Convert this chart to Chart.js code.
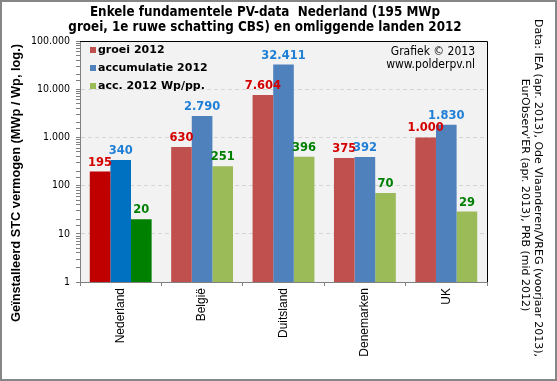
<!DOCTYPE html>
<html>
<head>
<meta charset="utf-8">
<script src="https://cdn.jsdelivr.net/npm/chart.js@4.4.1/dist/chart.umd.min.js"></script>
<style>
html,body{margin:0;padding:0;background:#fff;}
#wrap{width:557px;height:381px;position:relative;}
</style>
</head>
<body>
<div id="wrap"><canvas id="c" width="557" height="381"></canvas></div>
<script>
// ---- data ----
const categories = ['Nederland', 'België', 'Duitsland', 'Denemarken', 'UK'];
const groei2012 = [195, 630, 7604, 375, 1000];
const accumulatie2012 = [340, 2790, 32411, 392, 1830];
const wpPerPerson2012 = [20, 251, 396, 70, 29];
const seriesNames = ['groei 2012', 'accumulatie 2012', 'acc. 2012 Wp/pp.'];
const yTickValues = [1, 10, 100, 1000, 10000, 100000];
const yTickLabels = ['1', '10', '100', '1.000', '10.000', '100.000'];
const titleLines = ['Enkele fundamentele PV-data  Nederland (195 MWp', 'groei, 1e ruwe schatting CBS) en omliggende landen 2012'];
const yAxisTitle = 'Geïnstalleerd STC vermogen (MWp / Wp, log.)';
const creditLines = ['Grafiek © 2013', 'www.polderpv.nl'];
const sourceLines = ['Data: IEA (apr. 2013), Ode Vlaanderen/VREG (voorjaar 2013),', "EurObserv'ER (apr. 2013), PRB (mid 2012)"];

// ---- styles ----
const seriesColors = ['#c0504d', '#4f81bd', '#9bbb59'];
const highlightColors = ['#c00000', '#0070c0', '#008000'];
const labelColors = ['#d40000', '#1f7fd6', '#008000'];

function fmt(v) { return String(v).replace(/\B(?=(\d{3})+(?!\d))/g, '.'); }
function colorsFor(i) { return categories.map((c, k) => k === 0 ? highlightColors[i] : seriesColors[i]); }

const decoPlugin = {
  id: 'deco',
  beforeDraw(chart) {
    const ctx = chart.ctx, a = chart.chartArea;
    ctx.save();
    ctx.fillStyle = '#ffffff';
    ctx.fillRect(0, 0, chart.width, chart.height);
    ctx.fillStyle = '#f2f2f2';
    ctx.fillRect(a.left, a.top, a.right - a.left, a.bottom - a.top);
    ctx.restore();
  },
  afterDatasetsDraw(chart) {
    const ctx = chart.ctx;
    ctx.save();
    ctx.font = 'bold 11.5px "DejaVu Sans"';
    ctx.textAlign = 'center';
    ctx.textBaseline = 'alphabetic';
    chart.data.datasets.forEach((ds, i) => {
      const meta = chart.getDatasetMeta(i);
      meta.data.forEach((bar, k) => {
        ctx.fillStyle = labelColors[i];
        ctx.fillText(fmt(ds.data[k]), bar.x, bar.y - 6);
      });
    });
    ctx.restore();
  },
  afterDraw(chart) {
    const ctx = chart.ctx, a = chart.chartArea;
    ctx.save();
    // plot border top/right
    ctx.strokeStyle = '#000';
    ctx.lineWidth = 1;
    ctx.beginPath();
    ctx.moveTo(a.left, a.top + 0.5);
    ctx.lineTo(a.right + 0.5, a.top + 0.5);
    ctx.lineTo(a.right + 0.5, a.bottom);
    ctx.stroke();
    // outer frame
    ctx.strokeStyle = '#868686';
    ctx.lineWidth = 2;
    ctx.strokeRect(1, 1, chart.width - 2, chart.height - 2);
    // title
    ctx.fillStyle = '#000';
    ctx.textAlign = 'center';
    ctx.textBaseline = 'alphabetic';
    ctx.font = 'bold 13.3px "DejaVu Sans Condensed"';
    ctx.fillText(titleLines[0], 265, 16);
    ctx.fillText(titleLines[1], 265, 31);
    // legend
    ctx.font = 'bold 11px "DejaVu Sans"';
    ctx.textAlign = 'left';
    ctx.textBaseline = 'middle';
    seriesNames.forEach((n, i) => {
      const y = 50 + i * 18;
      ctx.fillStyle = seriesColors[i];
      ctx.fillRect(90, y - 3, 6, 6);
      ctx.fillStyle = '#000';
      ctx.fillText(n, 98, y + 0.5);
    });
    // credit
    ctx.font = '12px "DejaVu Sans Condensed"';
    ctx.textAlign = 'right';
    ctx.fillText(creditLines[0], 475, 52);
    ctx.fillText(creditLines[1], 475, 65);
    // y axis title
    ctx.save();
    ctx.translate(16, 183);
    ctx.rotate(-Math.PI / 2);
    ctx.font = 'bold 12.8px "Liberation Sans"';
    ctx.textAlign = 'center';
    ctx.textBaseline = 'middle';
    ctx.fillText(yAxisTitle, 0, 0);
    ctx.restore();
    // source text
    ctx.font = '11px "DejaVu Sans"';
    ctx.textAlign = 'center';
    ctx.textBaseline = 'middle';
    ctx.save();
    ctx.translate(538, 188);
    ctx.rotate(Math.PI / 2);
    ctx.fillText(sourceLines[0], 0, 0);
    ctx.restore();
    ctx.save();
    ctx.translate(525, 195);
    ctx.rotate(Math.PI / 2);
    ctx.fillText(sourceLines[1], 0, 0);
    ctx.restore();
    ctx.restore();
  }
};

const isDecade = v => yTickValues.includes(v);

new Chart(document.getElementById('c'), {
  type: 'bar',
  data: {
    labels: categories,
    datasets: [
      { label: seriesNames[0], data: groei2012, backgroundColor: colorsFor(0) },
      { label: seriesNames[1], data: accumulatie2012, backgroundColor: colorsFor(1) },
      { label: seriesNames[2], data: wpPerPerson2012, backgroundColor: colorsFor(2) }
    ]
  },
  options: {
    responsive: false,
    animation: false,
    events: [],
    categoryPercentage: 0.76,
    barPercentage: 1.0,
    layout: { padding: { left: 0, top: 41, right: 70, bottom: 0 } },
    plugins: { legend: { display: false }, title: { display: false }, tooltip: { enabled: false } },
    scales: {
      x: {
        afterFit(s) { s.height = 99; },
        grid: { display: true, drawOnChartArea: false, offset: true, tickLength: 4, tickColor: '#808080' },
        border: { display: true, color: '#808080' },
        ticks: { minRotation: 90, maxRotation: 90, padding: 2, color: '#000', font: { family: 'Liberation Sans', size: 12 } }
      },
      y: {
        type: 'logarithmic',
        min: 1,
        max: 100000,
        afterFit(s) { s.width = 80; },
        grid: {
          color: ctx => (ctx.tick && isDecade(ctx.tick.value) && ctx.tick.value !== 1 && ctx.tick.value !== 100000) ? '#d4d4d4' : 'rgba(0,0,0,0)',
          tickColor: '#808080',
          tickLength: 4
        },
        border: { display: true, color: '#808080', dash: [4, 3] },
        ticks: {
          autoSkip: false,
          padding: 6,
          color: '#000',
          font: { family: 'DejaVu Sans Condensed', size: 10.5 },
          callback: v => { const i = yTickValues.indexOf(v); return i >= 0 ? yTickLabels[i] : ''; }
        }
      }
    }
  },
  plugins: [decoPlugin]
});
</script>
</body>
</html>
